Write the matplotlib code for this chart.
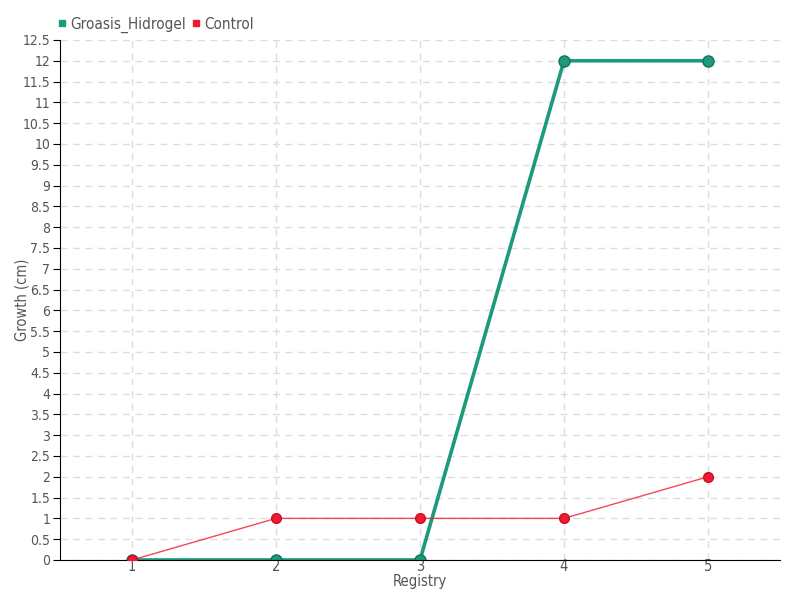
import matplotlib
matplotlib.use('Agg')
import matplotlib.pyplot as plt
from matplotlib.lines import Line2D

# data
registry = [1, 2, 3, 4, 5]
groasis = [0, 0, 0, 12, 12]
control = [0, 1, 1, 1, 2]
yticks = [i * 0.5 for i in range(26)]

plt.rcParams['font.family'] = ['DejaVu Sans', 'Liberation Sans']
plt.rcParams['font.stretch'] = 'condensed'
fs = 10.5
green = '#1b9a7c'
red = '#ee1c2e'
grey = '#555555'

fig = plt.figure(figsize=(8, 6), dpi=100)
ax = fig.add_axes([0.075, 0.0667, 0.9, 0.8667])

ax.plot(registry, groasis, color=green, lw=2.6, zorder=2)
ax.plot(registry, groasis, 'o', color=green, ms=8, mec='#15735c', mew=1, zorder=2)
ax.plot(registry, control, color=red, lw=1, alpha=0.8, zorder=3)
ax.plot(registry, control, 'o', color=red, ms=7, mec='#c8102a', mew=1, zorder=4)

ax.set_xlim(0.5, 5.5)
ax.set_ylim(0, 12.5)
ax.set_xticks(registry)
ax.set_xticklabels([str(r) for r in registry])
ax.set_yticks(yticks)
ax.set_yticklabels(['%g' % t for t in yticks])
ax.grid(True, color='#dddddd', ls=(0, (5, 4)), lw=1)
ax.set_axisbelow(True)
for s in ['top', 'right']:
    ax.spines[s].set_visible(False)
ax.tick_params(axis='y', colors='black', labelcolor=grey, labelsize=10, length=5, pad=2)
ax.tick_params(axis='x', colors='#cccccc', labelcolor=grey, labelsize=fs, length=0, pad=-1)
ax.set_xlabel('Registry', color=grey, fontsize=fs)
ax.set_ylabel('Growth (cm)', color=grey, fontsize=fs)
ax.xaxis.set_label_coords(0.5, -0.027)
ax.yaxis.set_label_coords(-0.043, 0.5)

handles = [Line2D([], [], ls='', marker='s', color=green, ms=5),
           Line2D([], [], ls='', marker='s', color=red, ms=5)]
leg = fig.legend(handles, ['Groasis_Hidrogel', 'Control'], loc='upper left',
                 bbox_to_anchor=(0.055, 0.995), ncol=2, frameon=False,
                 handlelength=0.6, handletextpad=0.2, columnspacing=0.4, fontsize=11)
for t in leg.get_texts():
    t.set_color(grey)

fig.savefig('out.png', dpi=100)
